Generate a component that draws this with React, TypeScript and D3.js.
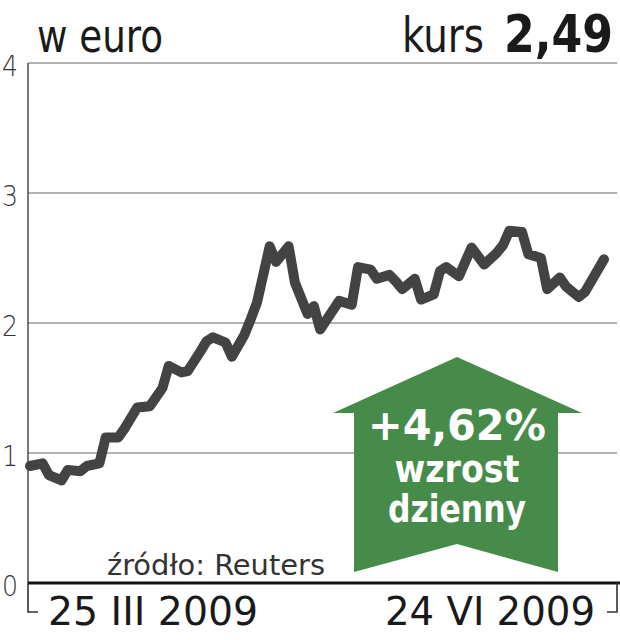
import React from "react";
import * as d3 from "d3";

const startDate = new Date(2009, 2, 25);
const endDate = new Date(2009, 5, 24);
const dayOffsets = [0,2,3,5,6,8,9,11,12,14,15,17,19,21,22,24,25,27,28,29,31,32,34,35,36,38,39,41,42,44,45,46,49,51,52,54,55,57,58,59,61,62,64,65,66,68,70,72,74,75,76,78,79,81,82,84,85,87,88,91];
const prices = [0.90,0.92,0.83,0.79,0.87,0.86,0.90,0.92,1.12,1.12,1.19,1.35,1.36,1.50,1.67,1.62,1.63,1.78,1.86,1.89,1.85,1.74,1.91,2.03,2.16,2.59,2.47,2.59,2.31,2.07,2.13,1.95,2.17,2.14,2.43,2.41,2.34,2.37,2.32,2.26,2.34,2.18,2.22,2.40,2.43,2.36,2.58,2.45,2.54,2.60,2.71,2.70,2.53,2.50,2.26,2.35,2.28,2.20,2.24,2.49];
const yTicks = [0, 1, 2, 3, 4];
const dateLabels = ["25 III 2009", "24 VI 2009"];
const unitLabel = "w euro";
const rateLabel = "kurs";
const rateValue = "2,49";
const changeLabel = ["+4,62%", "wzrost", "dzienny"];
const sourceLabel = "źródło: Reuters";

const W = 620, H = 640;
const axisX = 28, rightX = 617;
const COND = "'Liberation Sans Narrow', 'DejaVu Sans Condensed', 'Roboto', sans-serif";
const LIGHT = "'DejaVu Sans', 'Roboto', sans-serif";

export default function App() {
  const y = d3.scaleLinear().domain([0, 4]).range([583, 63]);
  const x = d3.scaleTime().domain([startDate, endDate]).range([30, 604]);
  const data = dayOffsets.map((d, i) => ({ date: d3.timeDay.offset(startDate, d), v: prices[i] }));
  const line = d3.line<any>().x(d => x(d.date)).y(d => y(d.v)).curve(d3.curveLinear);

  const ax = 457;
  const arrowPath = [
    [ax, 357], [582, 413], [558, 413], [558, 572], [ax, 544], [354, 572], [354, 413], [333, 413]
  ].map(p => p.join(",")).join(" ");

  return (
    <svg width={W} height={H} style={{ position: "absolute", left: 0, top: 0, background: "#fff" }}>
      {yTicks.filter(t => t > 0).map(t => (
        <line key={t} x1={axisX} x2={rightX} y1={y(t)} y2={y(t)} stroke="#9a9a9a" strokeWidth={1.6} />
      ))}
      {yTicks.map(t => (
        <text key={"l" + t} x={2} y={y(t) + 13} fontFamily={LIGHT} fontWeight={200} fontSize={28} fill="#333" textLength={16} lengthAdjust="spacingAndGlyphs">{t}</text>
      ))}
      <line x1={axisX} x2={axisX} y1={y(4)} y2={y(0)} stroke="#555" strokeWidth={1.6} />
      <text x={37} y={52} fontFamily={COND} fontSize={46} fill="#1a1a1a" textLength={126} lengthAdjust="spacingAndGlyphs">{unitLabel}</text>
      <text x={402} y={52} fontFamily={COND} fontSize={48} fill="#1a1a1a" textLength={82} lengthAdjust="spacingAndGlyphs">{rateLabel}</text>
      <text x={504} y={52} fontFamily={COND} fontWeight="bold" fontSize={52} fill="#1a1a1a" textLength={109} lengthAdjust="spacingAndGlyphs">{rateValue}</text>
      <text x={107} y={575} fontFamily={COND} fontSize={29} fill="#333" textLength={218} lengthAdjust="spacingAndGlyphs">{sourceLabel}</text>
      <polygon points={arrowPath} fill="#478b4b" />
      <text x={ax} y={440} textAnchor="middle" fontFamily={COND} fontWeight="bold" fontSize={42} fill="#fff" textLength={178} lengthAdjust="spacingAndGlyphs">{changeLabel[0]}</text>
      <text x={ax} y={482} textAnchor="middle" fontFamily={COND} fontWeight="bold" fontSize={37} fill="#fff" textLength={125} lengthAdjust="spacingAndGlyphs">{changeLabel[1]}</text>
      <text x={ax} y={522} textAnchor="middle" fontFamily={COND} fontWeight="bold" fontSize={37} fill="#fff" textLength={138} lengthAdjust="spacingAndGlyphs">{changeLabel[2]}</text>
      <path d={line(data) || ""} fill="none" stroke="#434343" strokeWidth={10} strokeLinejoin="round" strokeLinecap="round" />
      <line x1={axisX} x2={W} y1={y(0)} y2={y(0)} stroke="#111" strokeWidth={3} />
      <polyline points={`${axisX},${y(0)} ${axisX},612 ${axisX + 10},612`} fill="none" stroke="#333" strokeWidth={1.6} />
      <polyline points={`${rightX},${y(0)} ${rightX},612 ${rightX - 10},612`} fill="none" stroke="#333" strokeWidth={1.6} />
      <text x={x(startDate) + 18} y={625} fontFamily={COND} fontSize={39} fill="#1a1a1a" textLength={210} lengthAdjust="spacingAndGlyphs">{dateLabels[0]}</text>
      <text x={x(endDate) - 9} y={625} textAnchor="end" fontFamily={COND} fontSize={39} fill="#1a1a1a" textLength={210} lengthAdjust="spacingAndGlyphs">{dateLabels[1]}</text>
    </svg>
  );
}
